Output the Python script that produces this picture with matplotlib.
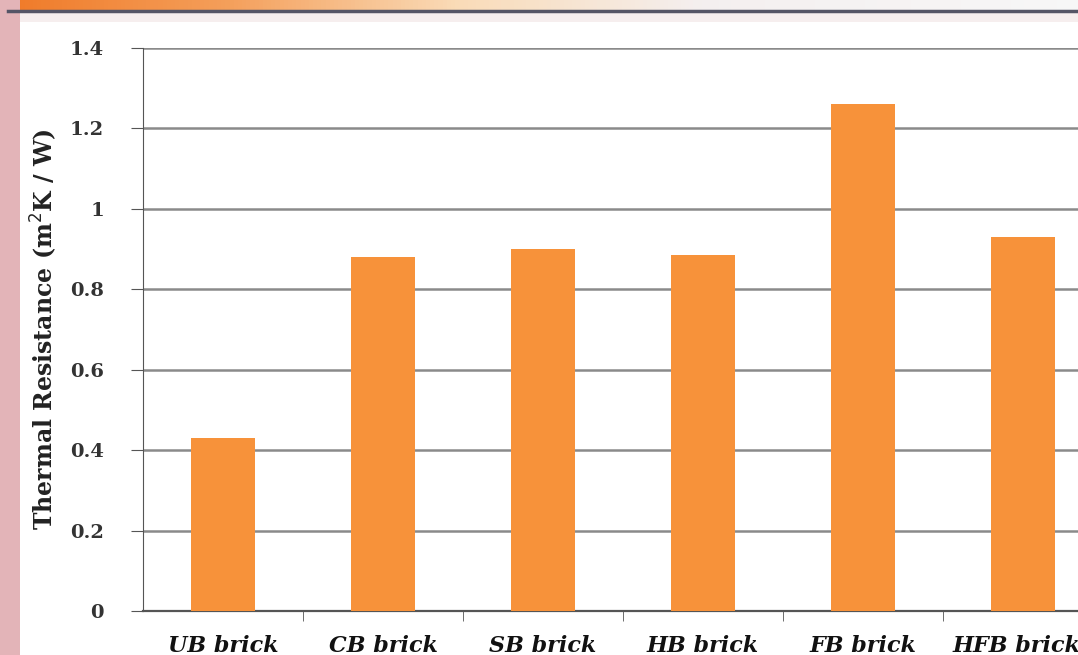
import numpy as np
import matplotlib.pyplot as plt
from matplotlib.patches import Rectangle
from matplotlib.transforms import ScaledTranslation


categories = ['UB brick', 'CB brick', 'SB brick', 'HB brick', 'FB brick', 'HFB brick']
resistance = [0.43, 0.88, 0.90, 0.885, 1.26, 0.93]
y_ticks = [0, 0.2, 0.4, 0.6, 0.8, 1, 1.2, 1.4]
y_tick_labels = ['0', '0.2', '0.4', '0.6', '0.8', '1', '1.2', '1.4']

W, H = 1078, 655
fig = plt.figure(figsize = (W / 100, H / 100), dpi = 100)
fig.patch.set_facecolor('white')

# slide background: orange banner on top, pink strip on the left
bg = fig.add_axes([0, 0, 1, 1], zorder = -5)
bg.set_xlim(0, W)
bg.set_ylim(H, 0)
bg.axis('off')
grad = np.linspace(0, 1, 256)
cols = np.array([[0.94, 0.48, 0.16], [0.96, 0.62, 0.35], [0.98, 0.86, 0.72], [0.96, 0.94, 0.94], [0.97, 0.97, 0.97]])
stops = np.array([0, 0.2, 0.42, 0.65, 1])
img = np.stack([np.interp(grad, stops, cols[:, i]) for i in range(3)], axis = -1)[None, :, :]
bg.imshow(img, extent = [8, W, 10, 0], aspect = 'auto')
bg.add_patch(Rectangle((0, 0), 20, H, color = '#e3b4b8', lw = 0, zorder = 0))
bg.plot([8, W], [11, 11], color = '#555566', lw = 2.5)
bg.add_patch(Rectangle((20, 12), W - 20, 10, color = '#f6eeee', lw = 0))

ax = fig.add_axes([143 / W, 1 - 611 / H, 960 / W, 563 / H])
x = np.arange(len(categories))
ax.bar(x, resistance, width = 0.4, color = '#F7923A', zorder = 3)

ax.set_xlim(-0.5, len(categories) - 0.5)
ax.set_ylim(0, 1.4)
ax.set_yticks(y_ticks)
ax.set_yticklabels(y_tick_labels, fontsize = 14, fontweight = 'semibold',
				   family = 'DejaVu Serif', color = '#333333')
ax.yaxis.grid(True, color = '#8a8a8a', linewidth = 1.8, zorder = 0)

ax.set_xticks(x)
ax.set_xticklabels(categories, fontsize = 16, fontweight = 'bold', fontstyle = 'italic',
				   family = 'DejaVu Serif', color = '#111111')
ax.set_xticks(x[:-1] + 0.5, minor = True)
ax.tick_params(axis = 'x', which = 'major', length = 0, pad = 17)
ax.tick_params(axis = 'x', which = 'minor', length = 7, color = '#555555', direction = 'out')
ax.tick_params(axis = 'y', length = 9, color = '#555555', direction = 'out', pad = 19)

# last label runs off the right edge, nudge it in
last = ax.get_xticklabels()[-1]
last.set_transform(last.get_transform() + ScaledTranslation(-0.07, 0, fig.dpi_scale_trans))

ax.spines['top'].set_visible(False)
ax.spines['right'].set_visible(False)
ax.spines['left'].set_color('#555555')
ax.spines['bottom'].set_color('#555555')
ax.spines['bottom'].set_linewidth(1.6)

ax.set_ylabel('Thermal Resistance (m$^2$K / W)', fontsize = 17, fontweight = 'semibold',
			  family = 'DejaVu Serif', color = '#222222', labelpad = 8)

fig.savefig('out.png', dpi = 100)
